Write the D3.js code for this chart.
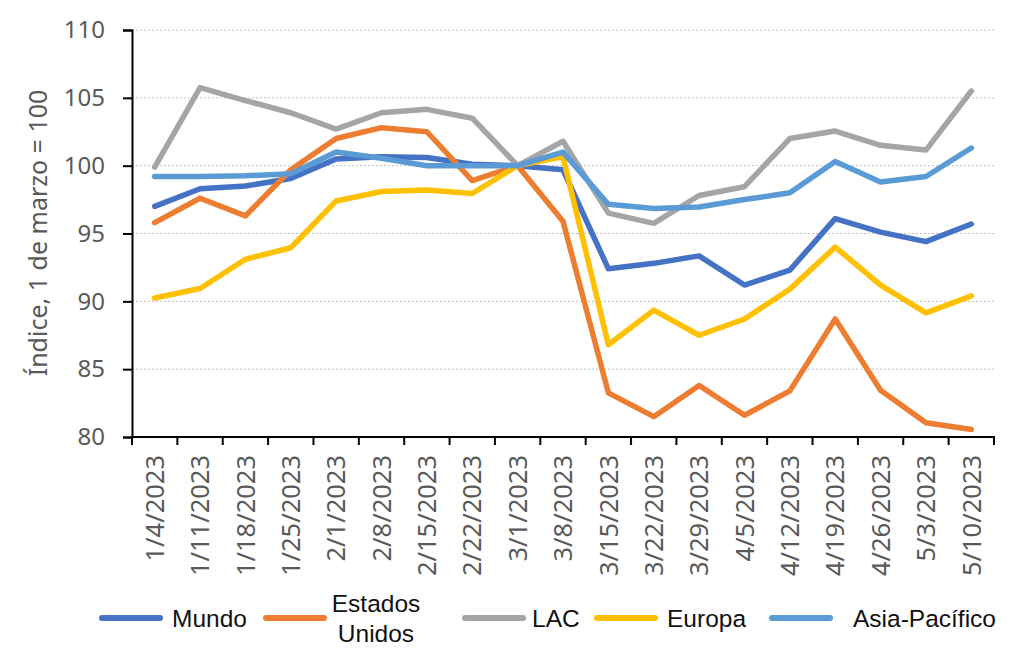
<!DOCTYPE html>
<html>
<head>
<meta charset="utf-8">
<script src="https://cdn.jsdelivr.net/npm/d3@7"></script>
<style>
  body { margin: 0; background: #fff; }
  svg { display: block; }
</style>
</head>
<body>
<svg width="1024" height="662"></svg>
<script>
// weekly dates (category axis)
const dates = ['1/4/2023', '1/11/2023', '1/18/2023', '1/25/2023', '2/1/2023', '2/8/2023', '2/15/2023',
  '2/22/2023', '3/1/2023', '3/8/2023', '3/15/2023', '3/22/2023', '3/29/2023', '4/5/2023',
  '4/12/2023', '4/19/2023', '4/26/2023', '5/3/2023', '5/10/2023']

// index values, 1 de marzo = 100
const mundo = [97.0, 98.3, 98.5, 99.05, 100.5, 100.65, 100.6, 100.1, 100, 99.7, 92.4, 92.8, 93.35, 91.2, 92.3, 96.1, 95.1, 94.4, 95.7]
const estadosUnidos = [95.8, 97.6, 96.3, 99.7, 102.0, 102.8, 102.5, 98.9, 100, 95.9, 83.25, 81.5, 83.8, 81.6, 83.4, 88.7, 83.45, 81.05, 80.55]
const lac = [99.9, 105.75, 104.8, 103.9, 102.7, 103.9, 104.15, 103.5, 100, 101.8, 96.5, 95.75, 97.8, 98.45, 102.0, 102.55, 101.5, 101.15, 105.5]
const europa = [90.25, 90.95, 93.1, 93.95, 97.4, 98.1, 98.2, 97.95, 100, 100.65, 86.8, 89.35, 87.5, 88.7, 90.9, 94.0, 91.2, 89.15, 90.4]
const asiaPacifico = [99.2, 99.2, 99.25, 99.4, 101.0, 100.55, 100.0, 100.0, 100, 101.0, 97.15, 96.85, 96.95, 97.5, 98.0, 100.3, 98.8, 99.2, 101.3]

const seriesNames = ['Mundo', 'Estados Unidos', 'LAC', 'Europa', 'Asia-Pacífico']
const seriesValues = [mundo, estadosUnidos, lac, europa, asiaPacifico]
const colors = ['#4472C4', '#ED7D31', '#A5A5A5', '#FFC000', '#5B9BD5']
const yTicks = [80, 85, 90, 95, 100, 105, 110]

const margin = { left: 132, right: 30, top: 30, bottom: 225 }
const width = 1024, height = 662

const svg = d3.select('svg')

const x = d3.scaleBand()
  .domain(dates)
  .range([margin.left, width - margin.right])

const y = d3.scaleLinear()
  .domain([80, 110])
  .range([height - margin.bottom, margin.top])

const axisFont = '"Noto Sans", "Open Sans", sans-serif'

// gridlines
svg.append('g')
  .selectAll('line')
  .data(yTicks.filter(d => d > 80))
  .enter().append('line')
  .attr('x1', margin.left)
  .attr('x2', width - margin.right)
  .attr('y1', d => y(d))
  .attr('y2', d => y(d))
  .attr('stroke', '#bfbfbf')
  .attr('stroke-width', 1)
  .attr('stroke-dasharray', '2,2')

// lines
const line = d3.line()
  .x((d, i) => x(dates[i]) + x.bandwidth() / 2)
  .y(d => y(d))

svg.append('g')
  .selectAll('path')
  .data(seriesValues)
  .enter().append('path')
  .attr('d', d => line(d))
  .attr('fill', 'none')
  .attr('stroke', (d, i) => colors[i])
  .attr('stroke-width', 5.5)
  .attr('stroke-linejoin', 'round')
  .attr('stroke-linecap', 'round')

// y axis
const yAxis = svg.append('g')
  .attr('transform', `translate(${margin.left},0)`)
  .call(d3.axisLeft(y).tickValues(yTicks).tickSize(9).tickPadding(18))
yAxis.select('.domain').attr('stroke', '#000').attr('stroke-width', 2)
yAxis.selectAll('.tick line').attr('stroke', '#000').attr('stroke-width', 2)
yAxis.selectAll('.tick text')
  .attr('fill', '#595959')
  .style('font-family', axisFont)
  .style('font-size', '24px')

// x axis with ticks between categories
const xAxisG = svg.append('g')
  .attr('transform', `translate(0,${height - margin.bottom})`)
xAxisG.append('line')
  .attr('x1', margin.left - 1)
  .attr('x2', width - margin.right + 1)
  .attr('stroke', '#000')
  .attr('stroke-width', 2)
xAxisG.selectAll('line.tk')
  .data(dates.concat(['end']))
  .enter().append('line')
  .attr('class', 'tk')
  .attr('x1', (d, i) => i < dates.length ? x(d) : x(dates[dates.length - 1]) + x.bandwidth())
  .attr('x2', (d, i) => i < dates.length ? x(d) : x(dates[dates.length - 1]) + x.bandwidth())
  .attr('y1', 0)
  .attr('y2', 8)
  .attr('stroke', '#000')
  .attr('stroke-width', 2)
xAxisG.selectAll('text')
  .data(dates)
  .enter().append('text')
  .attr('transform', d => `translate(${x(d) + x.bandwidth() / 2},18) rotate(-90)`)
  .attr('text-anchor', 'end')
  .attr('dy', '0.36em')
  .attr('fill', '#595959')
  .style('font-family', axisFont)
  .style('font-size', '25.5px')
  .text(d => d)

// y axis title
svg.append('text')
  .attr('transform', `translate(38,233) rotate(-90)`)
  .attr('text-anchor', 'middle')
  .attr('dy', '0.36em')
  .attr('fill', '#595959')
  .style('font-family', axisFont)
  .style('font-size', '25px')
  .text('Índice, 1 de marzo = 100')

// legend
const legendX = [102, 266, 465, 597, 772]
const legendTextGap = [70, 110, 67, 70, 81]
const legendY = 618
const legend = svg.append('g')
  .style('font-family', '"Liberation Sans", Arial, sans-serif')
  .style('font-size', '24.5px')
  .attr('fill', '#111')

seriesNames.forEach((name, i) => {
  legend.append('line')
    .attr('x1', legendX[i])
    .attr('x2', legendX[i] + 58)
    .attr('y1', legendY)
    .attr('y2', legendY)
    .attr('stroke', colors[i])
    .attr('stroke-width', 6)
    .attr('stroke-linecap', 'round')
  if (name === 'Estados Unidos') {
    const t = legend.append('text')
      .attr('x', legendX[i] + legendTextGap[i])
      .attr('y', legendY)
      .attr('text-anchor', 'middle')
    t.append('tspan').attr('x', legendX[i] + legendTextGap[i]).attr('dy', '-6').text('Estados')
    t.append('tspan').attr('x', legendX[i] + legendTextGap[i]).attr('dy', '30').text('Unidos')
  } else {
    legend.append('text')
      .attr('x', legendX[i] + legendTextGap[i])
      .attr('y', legendY)
      .attr('dy', '0.36em')
      .text(name)
  }
})
</script>
</body>
</html>
